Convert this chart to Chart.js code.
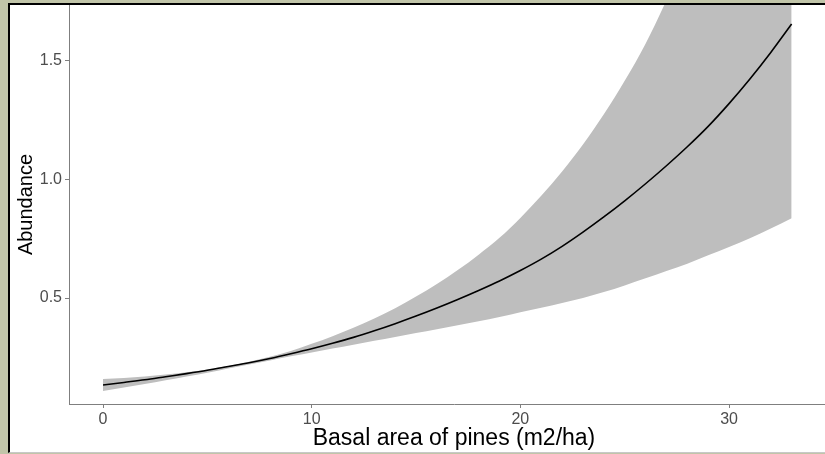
<!DOCTYPE html>
<html>
<head>
<meta charset="utf-8">
<script src="https://cdn.jsdelivr.net/npm/chart.js@4.4.0/dist/chart.umd.min.js"></script>
<style>
  body { margin: 0; background: #c1c5a9; width: 825px; height: 454px; overflow: hidden; position: relative; }
  #frame { position: absolute; left: 8px; top: 3px; width: 815px; height: 447px; overflow: hidden;
           border-left: 2px solid #000; border-top: 2px solid #000; border-bottom: 1px solid #c8c8c8;
           background: #fff; }
  #myChart { display: block; }
</style>
</head>
<body>
<div id="frame"><canvas id="myChart" width="829" height="447"></canvas></div>
<script>
// basal area of pines (m2/ha)
var basalArea = [0, 1, 2, 3, 4, 5, 6, 7, 8, 9, 10, 11, 12, 13, 14, 15, 16,
                 17, 18, 19, 20, 21, 22, 23, 24, 25, 26, 27, 28, 29, 30, 31, 32, 33];
// fitted abundance
var abundance = [0.133, 0.144, 0.155, 0.168, 0.181, 0.195, 0.211, 0.227, 0.245, 0.265,
                 0.286, 0.309, 0.334, 0.362, 0.392, 0.424, 0.458, 0.494, 0.532, 0.572,
                 0.616, 0.664, 0.718, 0.778, 0.842, 0.910, 0.982, 1.058, 1.138, 1.224,
                 1.320, 1.424, 1.536, 1.656];
// confidence band
var upperCI = [0.158, 0.163, 0.169, 0.177, 0.187, 0.199, 0.213, 0.231, 0.252, 0.277,
               0.307, 0.339, 0.375, 0.414, 0.457, 0.506, 0.559, 0.618, 0.683, 0.754,
               0.838, 0.931, 1.034, 1.148, 1.275, 1.416, 1.573, 1.756, 1.960, 2.188,
               2.442, 2.726, 3.043, 3.397];
var lowerCI = [0.108, 0.123, 0.137, 0.153, 0.169, 0.185, 0.203, 0.220, 0.237, 0.254,
               0.270, 0.287, 0.303, 0.320, 0.336, 0.352, 0.368, 0.385, 0.402, 0.420,
               0.440, 0.459, 0.479, 0.500, 0.525, 0.553, 0.583, 0.614, 0.645, 0.680,
               0.715, 0.752, 0.793, 0.836];
var xTicks = [0, 10, 20, 30];
var yTicks = [0.5, 1.0, 1.5];

function toPoints(ys) {
    return basalArea.map(function (x, i) { return { x: x, y: ys[i] }; });
}

var axisGrey = '#7f7f7f';
var tickFont = { family: 'Liberation Sans, Arial, sans-serif', size: 16 };

var ctx = document.getElementById('myChart').getContext('2d');
var myChart = new Chart(ctx, {
    type: 'line',
    data: {
        datasets: [
            {
                // fitted line first so it is drawn on top of the band
                data: toPoints(abundance),
                borderWidth: 1.6,
                borderColor: '#000000',
                fill: false,
                pointRadius: 0,
                cubicInterpolationMode: 'monotone'
            },
            {
                data: toPoints(upperCI),
                borderWidth: 0,
                borderColor: 'rgba(0,0,0,0)',
                backgroundColor: '#bebebe',
                fill: '+1',
                pointRadius: 0,
                cubicInterpolationMode: 'monotone'
            },
            {
                data: toPoints(lowerCI),
                borderWidth: 0,
                borderColor: 'rgba(0,0,0,0)',
                fill: false,
                pointRadius: 0,
                cubicInterpolationMode: 'monotone'
            }
        ]
    },
    options: {
        responsive: false,
        animation: false,
        layout: { padding: 0 },
        plugins: {
            legend: { display: false },
            tooltip: { enabled: false }
        },
        scales: {
            x: {
                type: 'linear',
                min: -1.63,
                max: 35.27,
                afterBuildTicks: function (scale) {
                    scale.ticks = xTicks.map(function (v) { return { value: v }; });
                },
                afterFit: function (scale) {
                    scale.height = 48;
                    scale.paddingLeft = 0;
                    scale.paddingRight = 0;
                },
                border: { display: true, color: axisGrey, width: 1 },
                grid: { display: true, drawOnChartArea: false, drawTicks: true, tickLength: 4, color: axisGrey },
                ticks: {
                    color: '#4d4d4d',
                    font: tickFont,
                    padding: 2,
                    maxRotation: 0,
                    callback: function (v) { return String(v); }
                },
                title: {
                    display: true,
                    text: 'Basal area of pines (m2/ha)',
                    color: '#000000',
                    font: { family: 'Liberation Sans, Arial, sans-serif', size: 23 },
                    padding: { top: 0, bottom: 0 }
                }
            },
            y: {
                min: 0.053,
                max: 1.736,
                afterBuildTicks: function (scale) {
                    scale.ticks = yTicks.map(function (v) { return { value: v }; });
                },
                afterFit: function (scale) {
                    scale.width = 59;
                    scale.paddingTop = 0;
                    scale.paddingBottom = 0;
                },
                border: { display: true, color: axisGrey, width: 1 },
                grid: { display: true, drawOnChartArea: false, drawTicks: true, tickLength: 4, color: axisGrey },
                ticks: {
                    color: '#4d4d4d',
                    font: tickFont,
                    padding: 3,
                    callback: function (v) { return v.toFixed(1); }
                },
                title: {
                    display: true,
                    text: 'Abundance',
                    color: '#000000',
                    font: { family: 'Liberation Sans, Arial, sans-serif', size: 20 },
                    padding: { top: 4, bottom: 0 }
                }
            }
        }
    }
});
</script>
</body>
</html>
